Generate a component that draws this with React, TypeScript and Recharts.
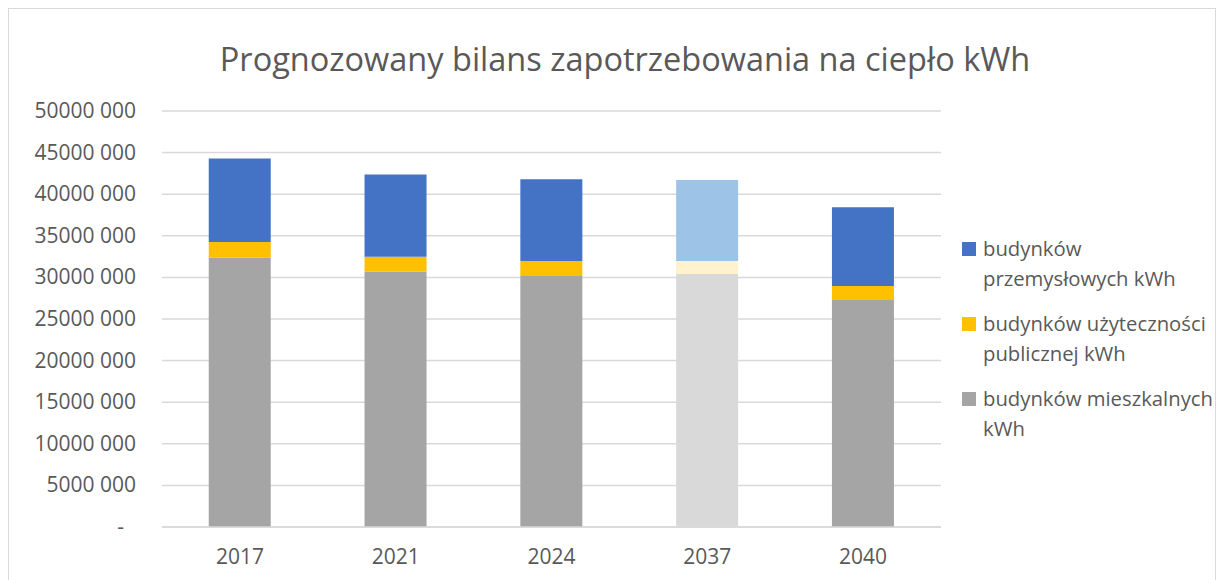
import React from 'react';
import { BarChart, Bar, XAxis, YAxis, CartesianGrid, Cell, Legend } from 'recharts';

const years = ['2017', '2021', '2024', '2037', '2040'];
const mieszkalne = [32370000, 30690000, 30250000, 30410000, 27360000];
const publiczne = [1890000, 1800000, 1720000, 1560000, 1610000];
const przemyslowe = [10030000, 9870000, 9830000, 9750000, 9460000];
const yTicks = [0, 5000000, 10000000, 15000000, 20000000, 25000000, 30000000, 35000000, 40000000, 45000000, 50000000];
const title = 'Prognozowany bilans zapotrzebowania na ciepło kWh';
const seriesNames = ['budynków przemysłowych kWh', 'budynków użyteczności publicznej kWh', 'budynków mieszkalnych kWh'];
const legendLines = [['budynków', 'przemysłowych kWh'], ['budynków użyteczności', 'publicznej kWh'], ['budynków mieszkalnych', 'kWh']];
const highlightYear = '2037';

const data = years.map((y, i) => ({
  year: y,
  mieszkalne: mieszkalne[i],
  publiczne: publiczne[i],
  przemyslowe: przemyslowe[i],
}));

const FONT = '"Open Sans", sans-serif';
const TXT = '#595959';

const colors = {
  przemyslowe: ['#4472C4', '#9DC3E6'],
  publiczne: ['#FFC000', '#FFF2CC'],
  mieszkalne: ['#A5A5A5', '#D9D9D9'],
};

const fmt = (v: number) => (v === 0 ? '-' : `${Math.round(v / 1000)} 000`);

const YTick = (props: any) => {
  const { x, y, payload } = props;
  const v = payload.value;
  return (
    <text x={v === 0 ? x - 12 : x} y={y} dy={7} textAnchor="end" fill={TXT} fontSize={21} fontFamily={FONT}>
      {fmt(v)}
    </text>
  );
};

const LegendContent = () => {
  const cols = [colors.przemyslowe[0], colors.publiczne[0], colors.mieszkalne[0]];
  return (
    <div style={{ fontFamily: FONT, fontSize: 20.3, color: TXT, lineHeight: '30px' }}>
      {seriesNames.map((n, i) => (
        <div key={n} style={{ display: 'flex', alignItems: 'flex-start', marginBottom: 15 }} title={n}>
          <div style={{ width: 14, height: 14, background: cols[i], marginTop: 9, marginRight: 7, flexShrink: 0 }} />
          <div>
            {legendLines[i].map((l) => (
              <div key={l} style={{ whiteSpace: 'nowrap' }}>{l}</div>
            ))}
          </div>
        </div>
      ))}
    </div>
  );
};

export default function App() {
  return (
    <div style={{ position: 'relative', width: 1206, height: 580, border: '1px solid #D9D9D9', background: '#fff' }}>
      <div
        style={{
          position: 'absolute',
          left: 0,
          width: 1232,
          top: 27,
          textAlign: 'center',
          fontFamily: FONT,
          fontSize: 32.5,
          color: TXT,
        }}
      >
        {title}
      </div>
      <BarChart
        width={1206}
        height={572}
        data={data}
        margin={{ top: 102, right: 274, bottom: 16, left: 0 }}
        barCategoryGap="30%"
      >
        <CartesianGrid vertical={false} stroke="#D9D9D9" strokeWidth={1.5} />
        <XAxis
          dataKey="year"
          axisLine={{ stroke: '#D9D9D9', strokeWidth: 1.5 }}
          tickLine={false}
          tickSize={0}
          tickMargin={22}
          height={38}
          tick={{ fill: TXT, fontSize: 21, fontFamily: FONT }}
        />
        <YAxis
          type="number"
          domain={[0, 50000000]}
          ticks={yTicks}
          interval={0}
          axisLine={false}
          tickLine={false}
          tickSize={0}
          tickMargin={26}
          width={153}
          tick={<YTick />}
        />
        <Legend
          layout="vertical"
          align="center"
          verticalAlign="middle"
          content={<LegendContent />}
          wrapperStyle={{ position: 'absolute', left: 953, top: 224, width: 260 }}
        />
        <Bar dataKey="mieszkalne" name={seriesNames[2]} stackId="a" isAnimationActive={false}>
          {data.map((d) => (
            <Cell key={d.year} fill={colors.mieszkalne[d.year === highlightYear ? 1 : 0]} />
          ))}
        </Bar>
        <Bar dataKey="publiczne" name={seriesNames[1]} stackId="a" isAnimationActive={false}>
          {data.map((d) => (
            <Cell key={d.year} fill={colors.publiczne[d.year === highlightYear ? 1 : 0]} />
          ))}
        </Bar>
        <Bar dataKey="przemyslowe" name={seriesNames[0]} stackId="a" isAnimationActive={false}>
          {data.map((d) => (
            <Cell key={d.year} fill={colors.przemyslowe[d.year === highlightYear ? 1 : 0]} />
          ))}
        </Bar>
      </BarChart>
    </div>
  );
}
